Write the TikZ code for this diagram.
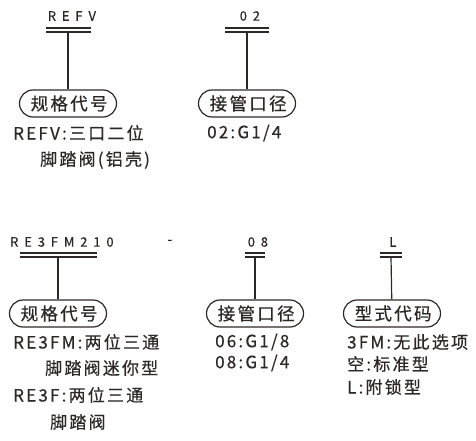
\documentclass[tikz,border=0pt]{standalone}
\usepackage{fontspec}
\setmainfont{Noto Sans CJK SC}
\newfontfamily\codefont[LetterSpace=45, FakeBold=0.3]{Noto Sans CJK SC}
\newfontfamily\descfont[LetterSpace=13, FakeBold=0.5]{Noto Sans CJK SC}
\usetikzlibrary{positioning}
\definecolor{ValveInk}{RGB}{45,40,38}

\begin{document}
\begin{tikzpicture}[x=1pt, y=-1pt,
    code/.style={font=\codefont\fontsize{13}{13}\selectfont, text=ValveInk,
                 inner sep=0pt},
    tagbox/.style={draw=ValveInk, line width=1.2pt, rounded corners=13.5pt,
                   minimum width=97pt, minimum height=27pt, inner sep=0pt,
                   font=\descfont\fontsize{17.5}{17.5}\selectfont, text=ValveInk},
    desc/.style={anchor=west, inner sep=0pt, text=ValveInk,
                 font=\descfont\fontsize{17}{17}\selectfont},
    bar/.style={draw=ValveInk, line width=1.2pt}]
  \useasboundingbox (0,0) rectangle (476,441);

  % Row 1: REFV
  \node[code] (refvcode) at (69,16) {REFV\kern-5.8pt};
  \coordinate (refvbar) at (68,32);
  \draw[bar] (refvbar) ++(-22.5,0) -- ++(45,0) ++(-45,-4) -- ++(45,0);
  \node[tagbox] (refvtag) at (68,103.5) {规格代号\kern-2.3pt};
  \draw[bar] (refvbar) -- (refvtag);
  \node[desc] (refvd1) at (13,133) {REFV:三口二位};
  \node[desc] (refvd2) at (40,160) {脚踏阀(铝壳)};

  % Row 1: port size 02
  \node[code] (portcode) at (247,16) {02\kern-5.8pt};
  \coordinate (portbar) at (247,32);
  \draw[bar] (portbar) ++(-22,0) -- ++(44,0) ++(-44,-4) -- ++(44,0);
  \node[tagbox] (porttag) at (247,103.5) {接管口径\kern-2.3pt};
  \draw[bar] (portbar) -- (porttag);
  \node[desc] (portd1) at (207,133) {02:G1/4};

  % Row 2: RE3FM210 - 08 L
  \node[code] (minicode) at (59,242) {RE3FM210\kern-5.8pt};
  \node[code] (dashsep) at (167,242) {-\kern-5.8pt};
  \coordinate (minibar) at (58,257);
  \draw[bar] (minibar) ++(-38.5,0) -- ++(77,0) ++(-77,-4) -- ++(77,0);
  \node[tagbox] (minitag) at (58,313.5) {规格代号\kern-2.3pt};
  \draw[bar] (minibar) -- (minitag);
  \node[desc] (minid1) at (13,342) {RE3FM:两位三通};
  \node[desc] (minid2) at (45,368) {脚踏阀迷你型};
  \node[desc] (minid3) at (13,395) {RE3F:两位三通};
  \node[desc] (minid4) at (50,422) {脚踏阀};

  % port size 08
  \node[code] (sizecode) at (255,242) {08\kern-5.8pt};
  \coordinate (sizebar) at (255,257);
  \draw[bar] (sizebar) ++(-10,0) -- ++(20,0) ++(-20,-4) -- ++(20,0);
  \node[tagbox] (sizetag) at (255,313.5) {接管口径\kern-2.3pt};
  \draw[bar] (sizebar) -- (sizetag);
  \node[desc] (sized1) at (215,342) {06:G1/8};
  \node[desc] (sized2) at (215,363) {08:G1/4};

  % type code L
  \node[code] (typecode) at (390,242) {L\kern-5.8pt};
  \coordinate (typebar) at (391,257);
  \draw[bar] (typebar) ++(-11,0) -- ++(22,0) ++(-22,-4) -- ++(22,0);
  \node[tagbox] (typetag) at (392,313.5) {型式代码\kern-2.3pt};
  \draw[bar] (typebar) -- (typetag);
  \node[desc] (typed1) at (347,342) {3FM:无此选项};
  \node[desc] (typed2) at (347,364) {空:标准型};
  \node[desc] (typed3) at (347,387) {L:附锁型};
\end{tikzpicture}
\end{document}
